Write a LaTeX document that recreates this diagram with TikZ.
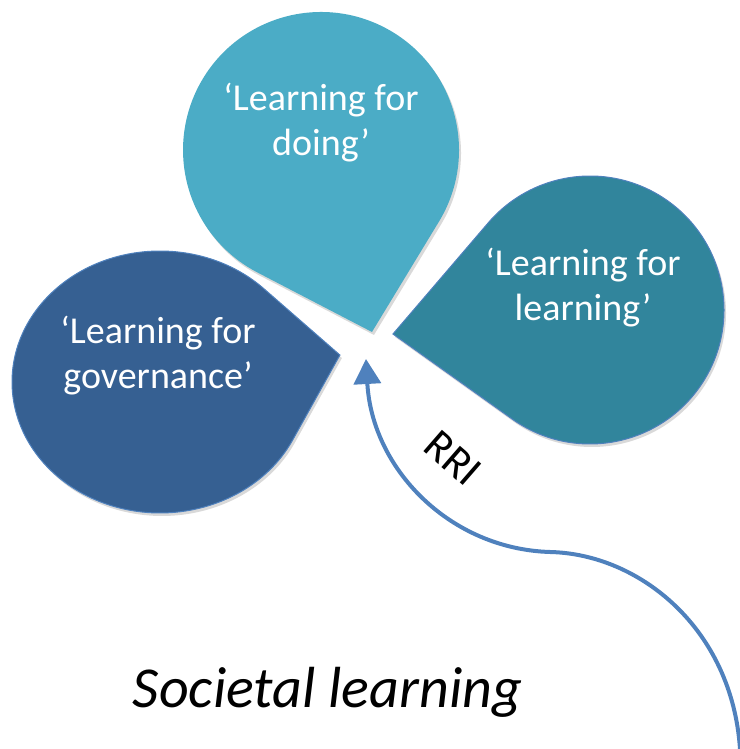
\documentclass[tikz,border=0pt]{standalone}
\usepackage{fontspec}
\setmainfont{Carlito}
\usetikzlibrary{arrows.meta}

\definecolor{doingblue}{HTML}{4BACC6}
\definecolor{govblue}{HTML}{366092}
\definecolor{learnblue}{HTML}{31859C}
\definecolor{edgeblue}{HTML}{4F81BD}

\tikzset{
  drop/.style={preaction={fill=black, opacity=0.15, transform canvas={shift={(2pt,-3pt)}}}},
  droptext/.style={text=white, align=center, font=\fontsize{38}{45}\selectfont},
}

\begin{document}
\begin{tikzpicture}[x=1pt,y=1pt]
\useasboundingbox (0,0) rectangle (739,749);

% the three drops
\fill [drop, doingblue, shift={(321,599)}, rotate=-74.35] (189,0) -- (43.1:138) arc [start angle=43.1, end angle=316.9, radius=138] -- cycle ;
\filldraw [drop, fill=govblue, draw=edgeblue, line width=1pt, shift={(160,367)}, xscale=148, yscale=131, rotate=9.6] (1.233,0) -- (35.8:1) arc [start angle=35.8, end angle=324.2, radius=1] -- cycle ;
\filldraw [drop, fill=learnblue, draw=edgeblue, line width=1pt, shift={(590,439)}, rotate=186.95] (198.5,0) -- (47.5:134) arc [start angle=47.5, end angle=312.5, radius=134] -- cycle ;

\node [droptext] (doing) at (321,626.5) {‘Learning for\\doing’} ;
\node [droptext] (governance) at (158,393.5) {‘Learning for\\governance’} ;
\node [droptext] (learning) at (583,461.5) {‘Learning for\\learning’} ;

% RRI arrow
\coordinate (rrifoot) at (740,0) ;
\coordinate (hub) at (366,390) ;
\draw [edgeblue, line width=4pt, -{Triangle[length=25pt, width=27pt]}] (rrifoot) .. controls (732,120) and (640,195) .. (550,197) .. controls (450,200) and (372,280) .. (hub) ;
\node [rotate=-41, inner sep=0pt, font=\fontsize{44}{48}\selectfont] (rri) at (453,291) {RRI} ;

\node [anchor=base, font=\fontsize{58}{62}\selectfont\itshape] (societal) at (327.5,41) {Societal learning} ;

\end{tikzpicture}
\end{document}
